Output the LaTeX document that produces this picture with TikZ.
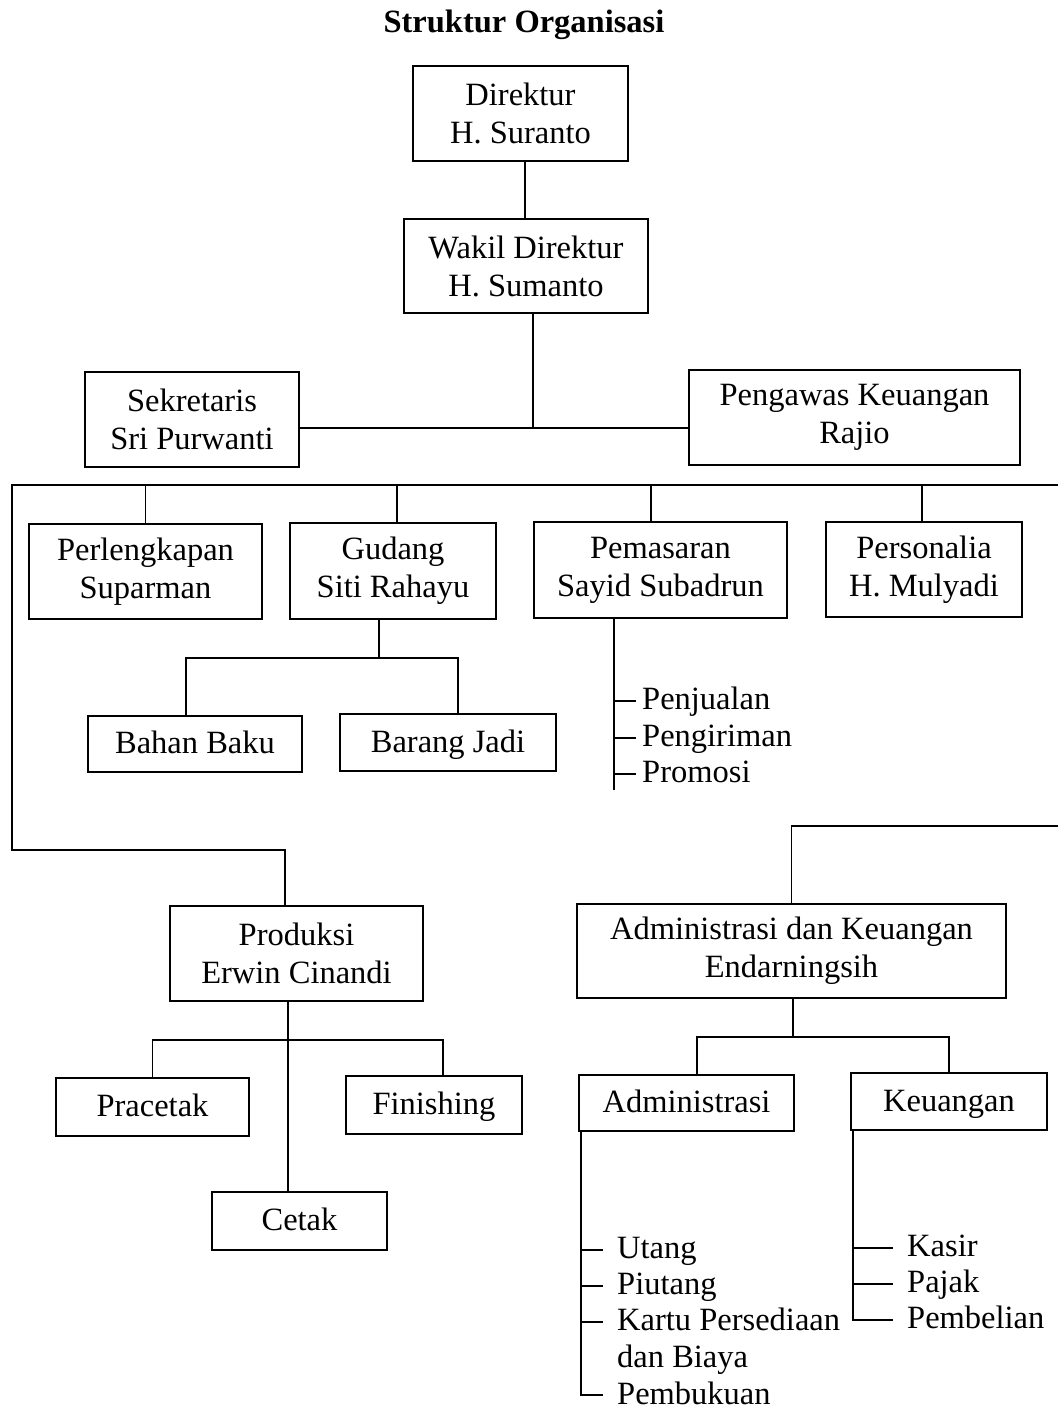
\documentclass[tikz,border=0pt]{standalone}
\usepackage{fontspec}
\setmainfont{Liberation Serif}
\newcommand\orgfs{\fontsize{32.5}{38}\selectfont}
\tikzset{
  box/.style={draw, line width=1.8pt, inner sep=0pt, align=center, font=\orgfs},
  sbox/.style={box, text height=26pt, text depth=7pt},
  lbl/.style={inner sep=0pt, anchor=west, font=\orgfs, text height=23pt, text depth=7pt},
  conn/.style={line width=1.6pt}
}
\begin{document}
\begin{tikzpicture}[x=1pt, y=-1pt]
\useasboundingbox (0,0) rectangle (1058,1407);
\fill[white] (0,0) rectangle (1058,1407);

\node[font=\orgfs\bfseries, inner sep=0pt] (title) at (524,25) {Struktur Organisasi};

\node[box, minimum width=215pt, minimum height=95pt] (dir) at (520.5,113.5) {Direktur\\H. Suranto};
\node[box, minimum width=244pt, minimum height=94pt] (wak) at (526,266) {Wakil Direktur\\H. Sumanto};
\node[box, minimum width=214pt, minimum height=95pt] (sek) at (192,419.5) {Sekretaris\\Sri Purwanti};
\node[box, minimum width=331pt, minimum height=95pt] (peng) at (854.5,417.5) {Pengawas Keuangan\\Rajio};
\node[box, minimum width=233pt, minimum height=95pt] (perl) at (145.5,571.5) {Perlengkapan\\Suparman};
\node[box, minimum width=206pt, minimum height=96pt] (gud) at (393,571) {Gudang\\Siti Rahayu};
\node[box, minimum width=253pt, minimum height=96pt] (pem) at (660.5,570) {Pemasaran\\Sayid Subadrun};
\node[box, minimum width=196pt, minimum height=95pt] (pers) at (924,569.5) {Personalia\\H. Mulyadi};
\node[sbox, minimum width=214pt, minimum height=56pt] (bahan) at (195,744) {Bahan Baku};
\node[sbox, minimum width=216pt, minimum height=57pt] (barang) at (448,742.5) {Barang Jadi};
\node[box, minimum width=253pt, minimum height=95pt] (prod) at (296.5,953.5) {Produksi\\Erwin Cinandi};
\node[box, minimum width=429pt, minimum height=94pt] (adk) at (791.5,951) {Administrasi dan Keuangan\\Endarningsih};
\node[sbox, minimum width=193pt, minimum height=58pt] (prac) at (152.5,1107) {Pracetak};
\node[sbox, minimum width=176pt, minimum height=58pt] (fin) at (434,1105) {Finishing};
\node[sbox, minimum width=175pt, minimum height=58pt] (cet) at (299.5,1221) {Cetak};
\node[sbox, minimum width=215pt, minimum height=56pt] (adm) at (686.5,1103) {Administrasi};
\node[sbox, minimum width=196pt, minimum height=57pt] (keu) at (949,1101.5) {Keuangan};

% list labels
\node[lbl] (pj1) at (642,701) {Penjualan};
\node[lbl] (pj2) at (642,738) {Pengiriman};
\node[lbl] (pj3) at (642,774) {Promosi};
\node[lbl] (ad1) at (617,1250) {Utang};
\node[lbl] (ad2) at (617,1286) {Piutang};
\node[lbl] (ad3) at (617,1322) {Kartu Persediaan};
\node[lbl] (ad3b) at (617,1359) {dan Biaya};
\node[lbl] (ad4) at (617,1396) {Pembukuan};
\node[lbl] (ke1) at (907,1248) {Kasir};
\node[lbl] (ke2) at (907,1284) {Pajak};
\node[lbl] (ke3) at (907,1320) {Pembelian};

% coordinates
\coordinate (j1) at (533,428);
\coordinate (busL) at (12,485);
\coordinate (busR) at (1058,485);
\coordinate (pj) at (285,850);
\coordinate (g1) at (379,658);
\coordinate (pv) at (614,790);
\coordinate (ar) at (1058,826);
\coordinate (a1) at (793,1037);
\coordinate (p1) at (288,1040);
\coordinate (av) at (581,1395);
\coordinate (kv) at (853,1320);

% connectors
\draw[conn] ([xshift=4.5pt]dir.south) -- ([xshift=4.5pt]dir.south |- wak.north);
\draw[conn] (wak.south -| j1) -- (j1);
\draw[conn] (sek.east |- j1) -- (peng.west |- j1);
\draw[conn] (busR) -- (busL) -- (busL |- pj) -- (pj) -- (pj |- prod.north);
\draw[conn] (perl.north |- busL) -- (perl.north);
\draw[conn] ([xshift=4pt]gud.north |- busL) -- ([xshift=4pt]gud.north);
\draw[conn] ([xshift=-9.5pt]pem.north |- busL) -- ([xshift=-9.5pt]pem.north);
\draw[conn] ([xshift=-2pt]pers.north |- busL) -- ([xshift=-2pt]pers.north);

\draw[conn] ([xshift=-14pt]gud.south) -- (g1);
\draw[conn] ([xshift=-9pt]bahan.north) |- (g1) -| ([xshift=10pt]barang.north);

\draw[conn] (pem.south -| pv) -- (pv);
\draw[conn] (pv |- pj1.west) -- ([xshift=-6pt]pj1.west);
\draw[conn] (pv |- pj2.west) -- ([xshift=-6pt]pj2.west);
\draw[conn] (pv |- pj3.west) -- ([xshift=-6pt]pj3.west);

\draw[conn] (ar) -| (adk.north);
\draw[conn] (adk.south -| a1) -- (a1);
\draw[conn] ([xshift=10.5pt]adm.north) |- (a1) -| (keu.north);

\draw[conn] ([xshift=-8.5pt]prod.south) -- ([xshift=-8.5pt]prod.south |- cet.north);
\draw[conn] (prac.north) |- (p1) -| ([xshift=9pt]fin.north);

\draw[conn] (adm.south -| av) -- (av) -- ([xshift=-14pt]av -| ad4.west);
\draw[conn] (av |- ad1.west) -- ([xshift=-14pt]ad1.west);
\draw[conn] (av |- ad2.west) -- ([xshift=-14pt]ad2.west);
\draw[conn] (av |- ad3.west) -- ([xshift=-14pt]ad3.west);

\draw[conn] (keu.south -| kv) -- (kv) -- ([xshift=-14pt]kv -| ke3.west);
\draw[conn] (kv |- ke1.west) -- ([xshift=-14pt]ke1.west);
\draw[conn] (kv |- ke2.west) -- ([xshift=-14pt]ke2.west);
\end{tikzpicture}
\end{document}
